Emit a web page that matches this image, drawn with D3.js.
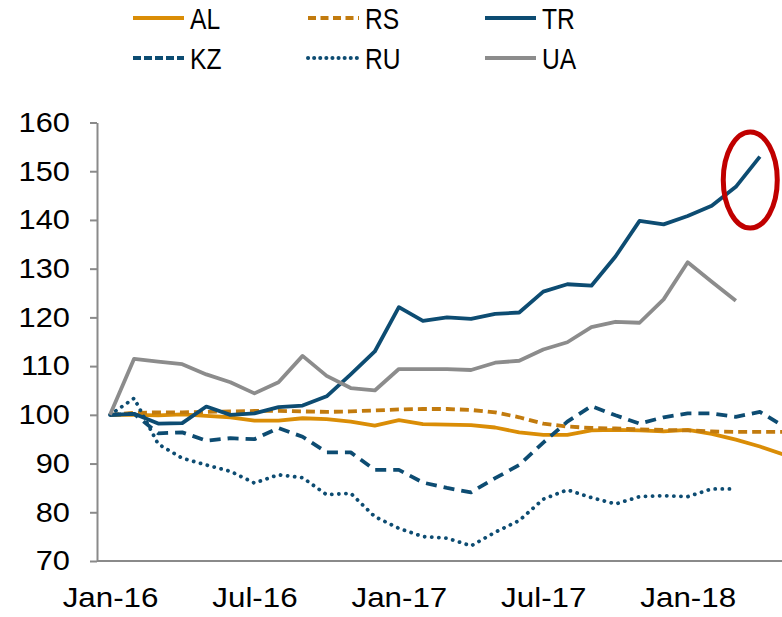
<!DOCTYPE html>
<html>
<head>
<meta charset="utf-8">
<script src="https://cdn.jsdelivr.net/npm/d3@7"></script>
<style>
  body { margin: 0; background: #fff; }
  svg { display: block; font-family: "Liberation Sans", Arial, sans-serif; }
  .axis path, .axis line { stroke: #8a8a8a; stroke-width: 2; }
  .axis text { fill: #000; font-family: "Liberation Sans", Arial, sans-serif; }
</style>
</head>
<body>
<svg id="chart" width="782" height="617"></svg>
<script>
// monthly index, Jan-16 = 0
const tickIdx = [0, 6, 12, 18, 24];
const tickLabels = ["Jan-16", "Jul-16", "Jan-17", "Jul-17", "Jan-18"];
const yTicks = [70, 80, 90, 100, 110, 120, 130, 140, 150, 160];

const AL = [100, 100.0, 99.9, 100.1, 99.8, 99.5, 98.8, 98.8, 99.3, 99.1, 98.6, 97.8, 98.9, 98.1, 98.0, 97.9, 97.4, 96.4, 95.9, 95.9, 96.8, 96.9, 96.8, 96.6, 96.9, 96.1, 94.9, 93.5, 91.8];
const RS = [100, 100.4, 100.5, 100.5, 100.6, 100.7, 100.8, 100.8, 100.7, 100.6, 100.7, 100.9, 101.1, 101.2, 101.2, 101.0, 100.5, 99.5, 98.2, 97.6, 97.3, 97.2, 97.0, 96.9, 96.8, 96.6, 96.5, 96.5, 96.5];
const TR = [100, 100.2, 98.2, 98.3, 101.7, 100.0, 100.3, 101.6, 101.9, 103.8, 108.3, 113.0, 122.1, 119.3, 120.0, 119.7, 120.7, 121.0, 125.3, 126.8, 126.5, 132.5, 139.8, 139.1, 140.8, 142.9, 146.8, 153.0, null];
const KZ = [100, 100.2, 96.2, 96.4, 94.7, 95.2, 95.0, 97.3, 95.5, 92.3, 92.3, 88.7, 88.7, 86.1, 85.0, 84.1, 87.0, 89.7, 94.3, 98.6, 101.8, 99.9, 98.2, 99.5, 100.3, 100.3, 99.6, 100.6, 97.6];
const RU = [100, 103.4, 94.0, 91.1, 89.7, 88.4, 86.0, 87.7, 87.1, 83.6, 83.9, 79.1, 76.7, 75.0, 74.7, 73.1, 75.9, 78.3, 82.7, 84.6, 83.0, 81.7, 83.2, 83.4, 83.2, 84.8, 84.8, null, null];
const UA = [100, 111.5, 110.9, 110.4, 108.3, 106.7, 104.4, 106.7, 112.1, 108.0, 105.5, 105.0, 109.4, 109.4, 109.4, 109.2, 110.7, 111.1, 113.4, 114.9, 118.0, 119.1, 118.9, 123.7, 131.3, 127.3, 123.4, null, null];

const series = [
  { name: "AL", values: AL, color: "#da8d06", dash: null },
  { name: "RS", values: RS, color: "#c27b0e", dash: "9,5" },
  { name: "TR", values: TR, color: "#0d4c72", dash: null },
  { name: "KZ", values: KZ, color: "#0d4c72", dash: "11,7" },
  { name: "RU", values: RU, color: "#0d4c72", dash: "0.1,7" },
  { name: "UA", values: UA, color: "#8c8c8c", dash: null }
];

const svg = d3.select("#chart");

const x = d3.scaleLinear().domain([-0.5, 28.5]).range([98, 796]);
const y = d3.scaleLinear().domain([70, 160]).range([561, 122.5]);

// y axis
const yAxis = svg.append("g")
  .attr("class", "axis")
  .attr("transform", `translate(${x(-0.5) - 1},0)`)
  .call(d3.axisLeft(y).tickValues(yTicks).tickSize(7).tickPadding(20).tickSizeOuter(0));

yAxis.selectAll("text")
  .style("font-size", "27.5px")
  .attr("x", 0)
  .attr("transform", "translate(-27,0) scale(1.12,1)");

// x axis
const xAxis = svg.append("g")
  .attr("class", "axis")
  .attr("transform", `translate(0,${y(70)})`)
  .call(d3.axisBottom(x).tickValues(tickIdx).tickSize(0).tickPadding(26)
    .tickFormat((d, i) => tickLabels[i]))
  .call(g => g.select(".domain").attr("d", `M${x(-0.5) - 1},0H782`));

xAxis.selectAll("text")
  .style("font-size", "28.5px")
  .attr("y", 0)
  .attr("transform", "translate(0,26) scale(1.1,1)");

const line = d3.line()
  .defined(d => d != null)
  .x((d, i) => x(i))
  .y(d => y(d));

svg.append("g")
  .selectAll("path")
  .data(series)
  .enter()
  .append("path")
  .attr("d", s => line(s.values))
  .attr("fill", "none")
  .attr("stroke", s => s.color)
  .attr("stroke-width", 3.8)
  .attr("stroke-linecap", s => s.name === "RU" ? "round" : "butt")
  .attr("stroke-linejoin", "round")
  .attr("stroke-dasharray", s => s.dash);

// red ellipse around last TR point
svg.append("ellipse")
  .attr("cx", x(26.6))
  .attr("cy", y(148.2))
  .attr("rx", 27)
  .attr("ry", 48)
  .attr("fill", "none")
  .attr("stroke", "#c00000")
  .attr("stroke-width", 5);

// legend
const legendPos = [
  { x: 133, y: 18 }, { x: 308, y: 18 }, { x: 485, y: 18 },
  { x: 133, y: 58 }, { x: 308, y: 58 }, { x: 485, y: 58 }
];
const legendOrder = ["AL", "RS", "TR", "KZ", "RU", "UA"];

const items = svg.append("g")
  .selectAll("g")
  .data(legendOrder.map(n => series.find(s => s.name === n)))
  .enter()
  .append("g")
  .attr("transform", (d, i) => `translate(${legendPos[i].x},${legendPos[i].y})`);

items.append("line")
  .attr("x1", 0)
  .attr("x2", 51)
  .attr("stroke", d => d.color)
  .attr("stroke-width", 4)
  .attr("stroke-linecap", d => d.name === "RU" ? "round" : "butt")
  .attr("stroke-dasharray", d => d.name === "RU" ? "0.1,6" : d.name === "KZ" ? "8,3" : d.name === "RS" ? "8,4.5" : null);

items.append("text")
  .attr("x", 0)
  .attr("y", 0)
  .attr("dy", "0.36em")
  .attr("transform", "translate(57,0) scale(0.82,1)")
  .style("font-size", "30px")
  .text(d => d.name);
</script>
</body>
</html>
